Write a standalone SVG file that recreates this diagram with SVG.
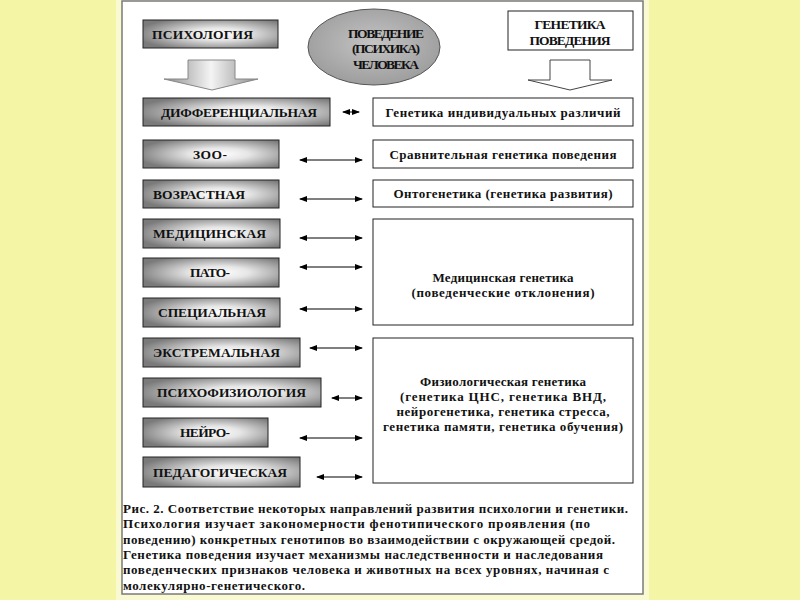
<svg xmlns="http://www.w3.org/2000/svg" width="800" height="600" viewBox="0 0 800 600">
<defs>
<style>
.t{font-family:"Liberation Serif","Times New Roman",serif;font-weight:bold;font-size:13.5px;fill:#111}
.s{font-size:13px}
.lbl{text-anchor:start}
.c{text-anchor:middle}
.gbox{fill:url(#g);stroke:#222;stroke-width:1}
.wbox{fill:#fff;stroke:#222;stroke-width:1}
.con{stroke:#000;stroke-width:1;fill:none;marker-start:url(#ah);marker-end:url(#ah)}
</style>
<radialGradient id="g" cx="0.56" cy="0.5" r="0.62">
<stop offset="0" stop-color="#ffffff"/>
<stop offset="0.35" stop-color="#e6e6e6"/>
<stop offset="1" stop-color="#7a7a7a"/>
</radialGradient>
<radialGradient id="ge" cx="0.5" cy="0.45" r="0.6">
<stop offset="0" stop-color="#c4c4c4"/>
<stop offset="1" stop-color="#9a9a9a"/>
</radialGradient>
<linearGradient id="ga" x1="0" y1="0" x2="1" y2="0">
<stop offset="0" stop-color="#8c8c8c"/>
<stop offset="0.5" stop-color="#f4f4f4"/>
<stop offset="1" stop-color="#8c8c8c"/>
</linearGradient>
<marker id="ah" viewBox="0 0 8 6" refX="7" refY="3" markerWidth="8" markerHeight="6" markerUnits="userSpaceOnUse" orient="auto-start-reverse">
<path d="M0,0 L8,3 L0,6 Z" fill="#000"/>
</marker>
</defs>
<rect x="0" y="0" width="800" height="600" fill="#f4f6a6"/>
<rect x="116" y="0" width="533" height="600" fill="#f9fad2"/>
<rect x="122" y="1" width="521" height="593" fill="#fff" stroke="#7a7a7a" stroke-width="1.5"/>

<g id="psychology">
<rect class="gbox" x="143" y="20" width="135" height="28"/>
<text class="t lbl" x="152" y="39" textLength="101" lengthAdjust="spacing">ПСИХОЛОГИЯ</text>
</g>
<g id="arrow-left">
<polygon points="188,60 235,60 235,79 258,79 212,90 164,79 188,79" fill="url(#ga)" stroke="#888" stroke-width="1"/>
</g>
<g id="behavior">
<ellipse cx="374" cy="47" rx="66" ry="38" fill="url(#ge)" stroke="#555" stroke-width="1"/>
<text class="t c" x="386" y="38" textLength="76" lengthAdjust="spacing">ПОВЕДЕНИЕ</text>
<text class="t c" x="386" y="53" textLength="68" lengthAdjust="spacing">(ПСИХИКА)</text>
<text class="t c" x="386" y="69" textLength="66" lengthAdjust="spacing">ЧЕЛОВЕКА</text>
</g>
<g id="genetics">
<rect class="wbox" x="508" y="11" width="125" height="39"/>
<text class="t c" x="570" y="29" textLength="71" lengthAdjust="spacing">ГЕНЕТИКА</text>
<text class="t c" x="570" y="45" textLength="81" lengthAdjust="spacing">ПОВЕДЕНИЯ</text>
</g>
<g id="arrow-right">
<polygon points="550,60 590,60 590,80 612,80 570,90 528,80 550,80" fill="#fff" stroke="#444" stroke-width="1"/>
</g>

<g id="diff"><rect class="gbox" x="143" y="98" width="187" height="28"/><text class="t lbl" x="161" y="117" textLength="156" lengthAdjust="spacing">ДИФФЕРЕНЦИАЛЬНАЯ</text></g>
<g id="zoo"><rect class="gbox" x="143" y="140" width="136" height="28"/><text class="t lbl" x="193" y="159" textLength="34" lengthAdjust="spacing">ЗОО-</text></g>
<g id="age"><rect class="gbox" x="143" y="180" width="136" height="28"/><text class="t lbl" x="153" y="199" textLength="92" lengthAdjust="spacing">ВОЗРАСТНАЯ</text></g>
<g id="med"><rect class="gbox" x="143" y="219" width="137" height="29"/><text class="t lbl" x="153" y="238" textLength="113" lengthAdjust="spacing">МЕДИЦИНСКАЯ</text></g>
<g id="pato"><rect class="gbox" x="143" y="258" width="136" height="29"/><text class="t lbl" x="190" y="277" textLength="40" lengthAdjust="spacing">ПАТО-</text></g>
<g id="spec"><rect class="gbox" x="143" y="298" width="137" height="29"/><text class="t lbl" x="158" y="317" textLength="108" lengthAdjust="spacing">СПЕЦИАЛЬНАЯ</text></g>
<g id="extr"><rect class="gbox" x="143" y="338" width="157" height="29"/><text class="t lbl" x="153" y="357" textLength="127" lengthAdjust="spacing">ЭКСТРЕМАЛЬНАЯ</text></g>
<g id="psyphys"><rect class="gbox" x="143" y="378" width="178" height="29"/><text class="t lbl" x="157" y="397" textLength="149" lengthAdjust="spacing">ПСИХОФИЗИОЛОГИЯ</text></g>
<g id="neuro"><rect class="gbox" x="143" y="418" width="125" height="29"/><text class="t lbl" x="180" y="437" textLength="50" lengthAdjust="spacing">НЕЙРО-</text></g>
<g id="ped"><rect class="gbox" x="143" y="457" width="157" height="30"/><text class="t lbl" x="153" y="477" textLength="134" lengthAdjust="spacing">ПЕДАГОГИЧЕСКАЯ</text></g>

<g id="ind"><rect class="wbox" x="373" y="98" width="260" height="28"/><text class="t c s" x="503" y="117" textLength="235" lengthAdjust="spacing">Генетика индивидуальных различий</text></g>
<g id="comp"><rect class="wbox" x="373" y="140" width="260" height="28"/><text class="t c s" x="503" y="159" textLength="227" lengthAdjust="spacing">Сравнительная генетика поведения</text></g>
<g id="onto"><rect class="wbox" x="373" y="180" width="260" height="27"/><text class="t c s" x="503" y="198" textLength="219" lengthAdjust="spacing">Онтогенетика (генетика развития)</text></g>
<g id="medgen"><rect class="wbox" x="373" y="219" width="260" height="106"/>
<text class="t c s" x="503" y="282" textLength="141" lengthAdjust="spacing">Медицинская генетика</text>
<text class="t c s" x="503" y="297" textLength="183" lengthAdjust="spacing">(поведенческие отклонения)</text></g>
<g id="physgen"><rect class="wbox" x="373" y="338" width="260" height="145"/>
<text class="t c s" x="503" y="386" textLength="166" lengthAdjust="spacing">Физиологическая генетика</text>
<text class="t c s" x="503" y="401" textLength="206" lengthAdjust="spacing">(генетика ЦНС, генетика ВНД,</text>
<text class="t c s" x="503" y="416" textLength="213" lengthAdjust="spacing">нейрогенетика, генетика стресса,</text>
<text class="t c s" x="503" y="431" textLength="240" lengthAdjust="spacing">генетика памяти, генетика обучения)</text></g>

<g id="connectors">
<line class="con" x1="343" y1="112" x2="359" y2="112"/>
<line class="con" x1="300" y1="160" x2="362" y2="160"/>
<line class="con" x1="300" y1="199" x2="362" y2="199"/>
<line class="con" x1="300" y1="238" x2="362" y2="238"/>
<line class="con" x1="300" y1="267" x2="362" y2="267"/>
<line class="con" x1="300" y1="309" x2="362" y2="309"/>
<line class="con" x1="310" y1="348" x2="362" y2="348"/>
<line class="con" x1="332" y1="398" x2="362" y2="398"/>
<line class="con" x1="300" y1="438" x2="362" y2="438"/>
<line class="con" x1="317" y1="477" x2="362" y2="477"/>
</g>

<g id="caption">
<text class="t s" x="123" y="513" textLength="505" lengthAdjust="spacing">Рис. 2. Соответствие некоторых направлений развития психологии и генетики.</text>
<text class="t s" x="123" y="528" textLength="467" lengthAdjust="spacing">Психология изучает закономерности фенотипического проявления (по</text>
<text class="t s" x="123" y="544" textLength="492" lengthAdjust="spacing">поведению) конкретных генотипов во взаимодействии с окружающей средой.</text>
<text class="t s" x="123" y="559" textLength="480" lengthAdjust="spacing">Генетика поведения изучает механизмы наследственности и наследования</text>
<text class="t s" x="123" y="574" textLength="486" lengthAdjust="spacing">поведенческих признаков человека и животных на всех уровнях, начиная с</text>
<text class="t s" x="123" y="590" textLength="182" lengthAdjust="spacing">молекулярно-генетического.</text>
</g>
</svg>
